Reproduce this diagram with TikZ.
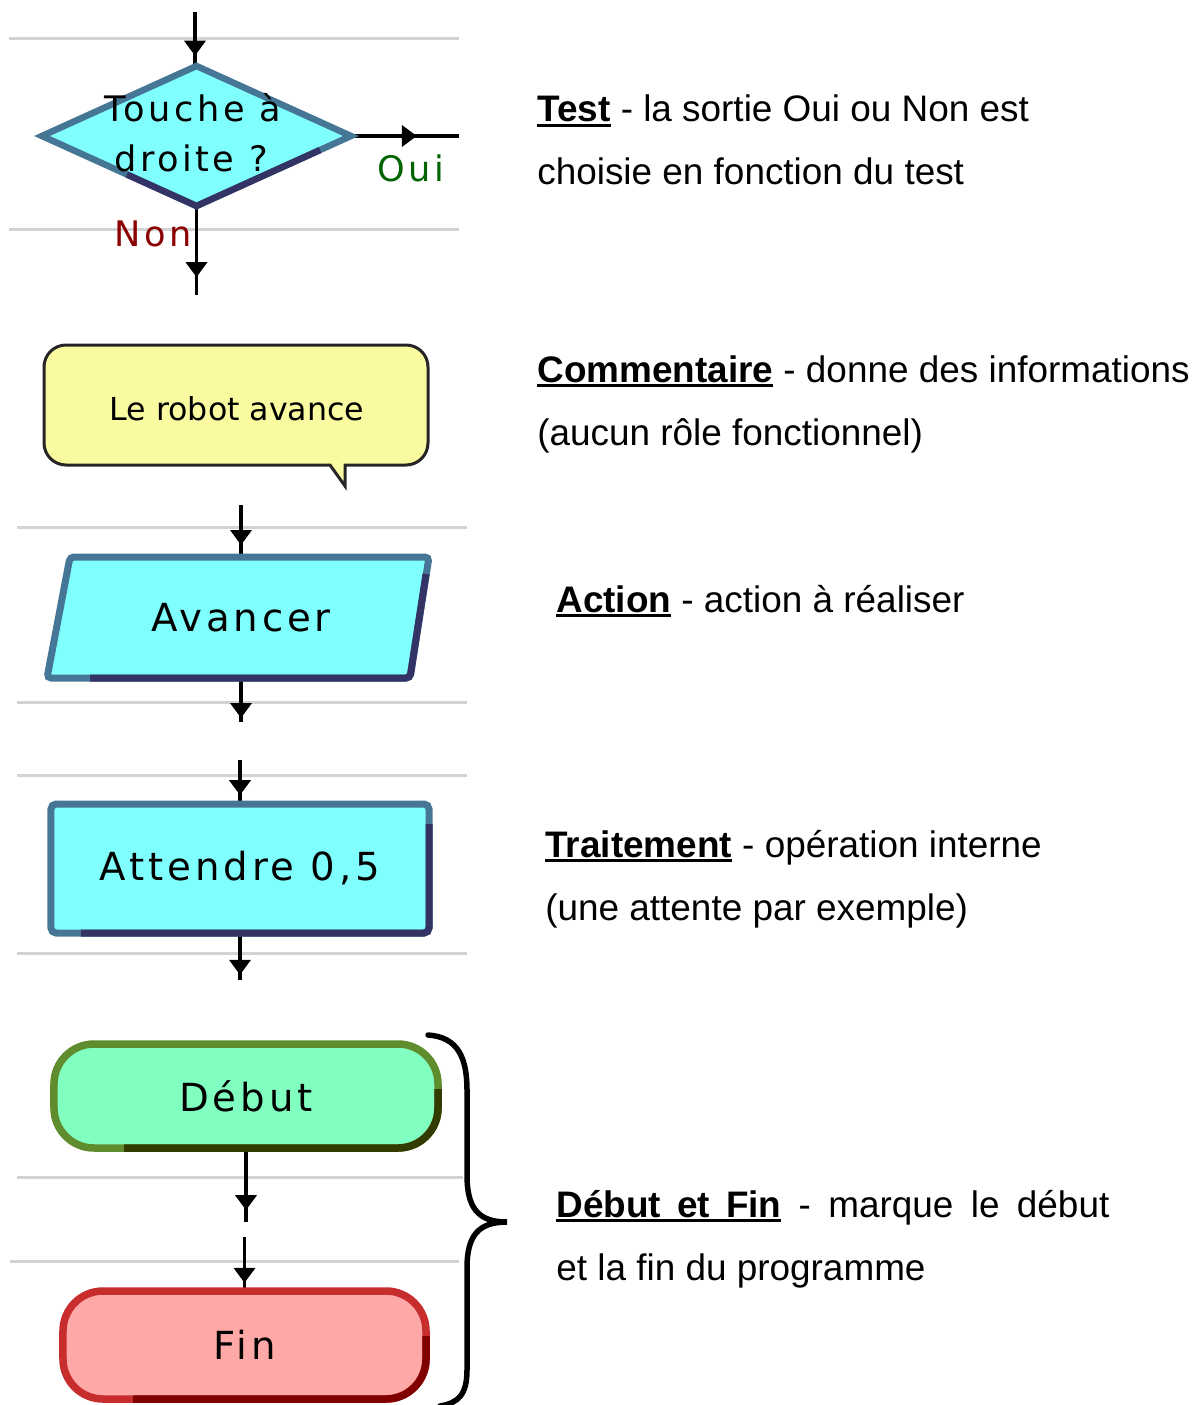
\documentclass[tikz,border=0pt]{standalone}
\usepackage{fontspec}
\setmainfont{Liberation Sans}
\newfontfamily\pixfont[LetterSpace=10]{DejaVu Sans}
\newfontfamily\pixfontn{DejaVu Sans}
\usetikzlibrary{shapes.geometric,arrows.meta,decorations.markings,calc}

\definecolor{cyanfill}{RGB}{128,255,255}
\definecolor{bluedge}{RGB}{70,118,150}
\definecolor{navyedge}{RGB}{51,51,102}
\definecolor{greenfill}{RGB}{128,255,192}
\definecolor{greenedge}{RGB}{95,140,45}
\definecolor{oliveedge}{RGB}{51,60,0}
\definecolor{redfill}{RGB}{255,168,168}
\definecolor{rededge}{RGB}{200,45,45}
\definecolor{maroonedge}{RGB}{128,0,0}
\definecolor{notefill}{RGB}{250,250,160}
\definecolor{lanegray}{RGB}{211,211,211}
\definecolor{ouigreen}{RGB}{0,100,0}
\definecolor{nonred}{RGB}{139,0,0}

\newcommand{\souligne}[1]{\setbox0\hbox{#1}\rlap{\rule[-1mm]{\wd0}{0.55mm}}\box0\relax}
\newcommand{\desctxt}{\fontsize{21}{25}\selectfont}
\newcommand{\boxtxt}{\pixfont\fontsize{22}{26}\selectfont}

\pgfdeclarelayer{bg}
\pgfsetlayers{bg,main}

\tikzset{
  lane/.style={draw=lanegray, line width=0.6mm},
  flow/.style={line width=0.7mm},
  arrowat/.style={postaction={decorate},
    decoration={markings, mark=at position #1 with {\arrow{Triangle[width=4.2mm,length=3mm]}}}},
  testbox/.style={diamond, draw=bluedge, fill=cyanfill, line width=1.3mm, outer sep=0pt,
    minimum width=61.8mm, minimum height=28mm, inner sep=0pt},
  actshape/.style={draw=bluedge, fill=cyanfill, line width=1.4mm, rounded corners=0.8mm},
  actbox/.style={rectangle, minimum width=72mm, minimum height=24.2mm, inner sep=0pt, outer sep=0pt, font=\boxtxt},
  procbox/.style={rectangle, rounded corners=1mm, draw=bluedge, fill=cyanfill, line width=1.4mm,
    minimum width=75.6mm, minimum height=25.8mm, inner sep=0pt, outer sep=0pt, font=\boxtxt},
  startbox/.style={rectangle, rounded corners=8mm, draw=greenedge, fill=greenfill, line width=1.5mm,
    minimum width=76.8mm, minimum height=20.8mm, inner sep=0pt, outer sep=0pt, font=\boxtxt},
  endbox/.style={rectangle, rounded corners=8mm, draw=rededge, fill=redfill, line width=1.5mm,
    minimum width=72.6mm, minimum height=21.6mm, inner sep=0pt, outer sep=0pt, font=\boxtxt},
  shade/.style={line width=#1},
  bubble/.style={draw=black!85, fill=notefill, line width=0.6mm},
  pixlabel/.style={anchor=base, inner sep=0pt, font=\pixfont\fontsize{20}{24}\selectfont},
  desc/.style={anchor=base west, inner sep=0pt, font=\desctxt}
}

\begin{document}
\begin{tikzpicture}[x=0.2mm,y=-0.2mm]
  \useasboundingbox (0,0) rectangle (1202,1405);

  % symboles
  \node[testbox] (test) at (196.5,136) {};
  \draw[shade=1.3mm, draw=navyedge] ($(test.west)!0.55!(test.south)$) -- (test.south) -- ($(test.south)!0.8!(test.east)$);
  \node[pixlabel] (testA) at (193,122) {Touche à};
  \node[pixlabel] (testB) at (191,172) {droite ?};
  \node[pixlabel, text=ouigreen] (oui) at (411,182) {Oui};
  \node[pixlabel, text=nonred] (non) at (153,247) {Non};

  \filldraw[bubble] (345,486) -- (345,465) -- (360,465) [rounded corners=4.4mm] -- (428,465)
    -- (428,345) -- (44,345) -- (44,465) -- (300,465) [sharp corners] -- (330,465) -- cycle;
  \node[anchor=base, inner sep=0pt, font=\pixfontn\fontsize{18}{22}\selectfont] (note) at (237,420) {Le robot avance};

  \filldraw[actshape] (238,678) -- (47,678) -- (70,557) -- (429,557) -- (410,678) -- cycle;
  \draw[shade=1.4mm, draw=navyedge, rounded corners=0.8mm] (90,678) -- (410,678) -- (426,574);
  \node[actbox] (avancer) at (241,617.5) {Avancer};

  \node[procbox] (attendre) at (240,868.5) {Attendre 0,5};
  \draw[shade=1.4mm, draw=navyedge, rounded corners=1mm] ([xshift=6mm]attendre.south west)
    -- (attendre.south east) -- ([yshift=-4mm]attendre.north east);

  \node[startbox] (debut) at (246,1096) {Début};
  \draw[shade=1.5mm, draw=oliveedge, rounded corners=8mm] ([xshift=14mm]debut.south west)
    -- (debut.south east) -- ([yshift=-9mm]debut.north east);
  \node[endbox] (fin) at (244.5,1345) {Fin};
  \draw[shade=1.5mm, draw=maroonedge, rounded corners=8mm] ([xshift=14mm]fin.south west)
    -- (fin.south east) -- ([yshift=-9mm]fin.north east);

  % liaisons
  \coordinate (in1) at (195,12);
  \coordinate (outoui) at (459,136);
  \coordinate (outnon) at (196.5,295);
  \coordinate (in4) at (241,505);
  \coordinate (out5) at (241,722);
  \coordinate (in6) at (240,760);
  \coordinate (out7) at (240,980);
  \coordinate (out8) at (246,1222);
  \coordinate (in9) at (244.5,1237);
  \begin{pgfonlayer}{bg}
    \draw[lane] (9,39) -- (459,39);
    \draw[lane] (9,230) -- (459,230);
    \draw[lane] (17,527) -- (467,527);
    \draw[lane] (17,702) -- (467,702);
    \draw[lane] (17,775) -- (467,775);
    \draw[lane] (17,953) -- (467,953);
    \draw[lane] (17,1177) -- (463,1177);
    \draw[lane] (10,1261) -- (459,1261);
    \draw[flow, arrowat=0.81] (in1) -- (in1 |- test.north);
    \draw[flow, arrowat=0.61] (test.east) -- (outoui);
    \draw[flow, arrowat=0.8] (test.south) -- (outnon);
    \draw[flow, arrowat=0.77] (in4) -- (avancer.north);
    \draw[flow, arrowat=0.91] (avancer.south) -- (out5);
    \draw[flow, arrowat=0.8] (in6) -- (attendre.north);
    \draw[flow, arrowat=0.89] (attendre.south) -- (out7);
    \draw[flow, arrowat=0.84] (debut.south) -- (out8);
    \draw[flow, arrowat=0.85] (in9) -- (fin.north);
  \end{pgfonlayer}

  % accolade
  \draw[line width=1.1mm, line cap=round] (428,1035) .. controls (458,1037) and (467,1058) .. (467,1090)
    -- (467,1175) .. controls (467,1208) and (478,1222) .. (507,1222)
    .. controls (478,1222) and (467,1236) .. (467,1268) -- (467,1370)
    .. controls (467,1395) and (458,1403) .. (440,1406);

  % legendes
  \node[desc] (testL1) at (537,122) {\souligne{\textbf{Test}} - la sortie Oui ou Non est};
  \node[desc] (testL2) at (537,185) {choisie en fonction du test};
  \node[desc] (noteL1) at (537,382) {\souligne{\textbf{Commentaire}} - donne des informations};
  \node[desc] (noteL2) at (537,445) {(aucun rôle fonctionnel)};
  \node[desc] (actL1) at (556,612) {\souligne{\textbf{Action}} - action à réaliser};
  \node[desc] (procL1) at (545,857) {\souligne{\textbf{Traitement}} - opération interne};
  \node[desc] (procL2) at (545,920) {(une attente par exemple)};
  \node[desc] (bornL1) at (556,1217) {\makebox[110.6mm][s]{\souligne{\makebox[45mm][s]{\textbf{Début et Fin}}} - marque le début}};
  \node[desc] (bornL2) at (556,1280) {et la fin du programme};
\end{tikzpicture}
\end{document}
